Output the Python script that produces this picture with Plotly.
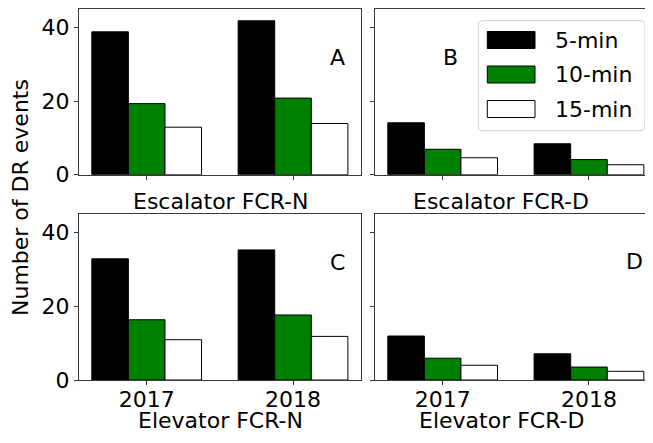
import plotly.graph_objects as go

# ---------------- data ----------------
years = ["2017", "2018"]
series_names = ["5-min", "10-min", "15-min"]
series_colors = ["#000000", "#008000", "#ffffff"]

esc_fcrn_5 = [38.8, 41.8]
esc_fcrn_10 = [19.3, 20.8]
esc_fcrn_15 = [12.9, 13.9]

esc_fcrd_5 = [14.1, 8.4]
esc_fcrd_10 = [6.9, 4.1]
esc_fcrd_15 = [4.6, 2.7]

ele_fcrn_5 = [32.8, 35.2]
ele_fcrn_10 = [16.3, 17.6]
ele_fcrn_15 = [10.9, 11.8]

ele_fcrd_5 = [11.9, 7.1]
ele_fcrd_10 = [5.9, 3.5]
ele_fcrd_15 = [4.0, 2.35]

panel_titles = ["Escalator FCR-N", "Escalator FCR-D", "Elevator FCR-N", "Elevator FCR-D"]
panel_letters = ["A", "B", "C", "D"]
y_ticks = [0, 20, 40]
y_label = "Number of DR events"

panels = [
    [esc_fcrn_5, esc_fcrn_10, esc_fcrn_15],
    [esc_fcrd_5, esc_fcrd_10, esc_fcrd_15],
    [ele_fcrn_5, ele_fcrn_10, ele_fcrn_15],
    [ele_fcrd_5, ele_fcrd_10, ele_fcrd_15],
]

# ---------------- layout geometry ----------------
# The page body has an 8px margin, so the figure is drawn 8px smaller and
# all target page-pixel positions are shifted by that offset.
OFF = 8
PAGE_W, PAGE_H = 653, 443
W, H = PAGE_W - OFF, PAGE_H - OFF
ML, MR, MT = 79 - OFF, 0, 9 - OFF
MB = H - (380 - OFF)
PW, PH = W - ML - MR, H - MT - MB
FONT = "DejaVu Sans"
FS = 22
AXC = "#3a3a3a"


def px2x(px):
    return (px - OFF - ML) / PW


def px2y(py):
    return (H - MB - (py - OFF)) / PH


x_domains = [[0, px2x(360.7)], [px2x(375), 1]]
y_domains = [[px2y(174.7), 1], [0, px2y(213.7)]]

fig = go.Figure()

for i, vals in enumerate(panels):
    ax = "" if i == 0 else str(i + 1)
    for name, color, v in zip(series_names, series_colors, vals):
        fig.add_trace(go.Bar(
            x=years, y=v, name=name,
            marker=dict(color=color, line=dict(color="black", width=1)),
            xaxis="x" + ax, yaxis="y" + ax, showlegend=False,
        ))

layout = dict(
    width=W, height=H,
    margin=dict(l=ML, r=MR, t=MT, b=MB, autoexpand=False),
    paper_bgcolor="white", plot_bgcolor="white",
    barmode="group", bargap=0.25, bargroupgap=0,
    font=dict(family=FONT, size=FS, color="black"),
    showlegend=False,
)

for i in range(4):
    r, c = divmod(i, 2)
    ax = "" if i == 0 else str(i + 1)
    right_edge = 1.4625 if c == 0 else 1.4377
    layout["xaxis" + ax] = dict(
        domain=x_domains[c], anchor="y" + ax, type="category",
        range=[-0.4625, right_edge],
        showline=True, mirror=True, linecolor=AXC, linewidth=1,
        ticks="outside", ticklen=4, tickwidth=1, tickcolor=AXC,
        showticklabels=(r == 1), ticklabelstandoff=-4,
        showgrid=False, zeroline=False,
        tickfont=dict(size=FS, color="black"),
        automargin=False,
    )
    layout["yaxis" + ax] = dict(
        domain=y_domains[r], anchor="x" + ax,
        range=[0, 45], tickvals=y_ticks,
        showline=True, mirror=(c == 0), linecolor=AXC, linewidth=1,
        ticks="outside", ticklen=4, tickwidth=1, tickcolor=AXC,
        showticklabels=(c == 0), showgrid=False, zeroline=False,
        tickfont=dict(size=FS, color="black"),
        automargin=False,
    )

fig.update_layout(**layout)

# panel x-titles (page pixel centres)
title_pos = [(220, 201.5), (501, 201.5), (220, 420.5), (501, 420.5)]
for t, (tx, ty) in zip(panel_titles, title_pos):
    fig.add_annotation(text=t, xref="paper", yref="paper", x=px2x(tx), y=px2y(ty),
                       xanchor="center", yanchor="middle", showarrow=False,
                       font=dict(size=FS, color="black"))

# panel letters
letter_pos = [(0.919, 0.71), (0.273, 0.71), (0.918, 0.707), (0.934, 0.714)]
for i, (lx, ly) in enumerate(letter_pos):
    ax = "" if i == 0 else str(i + 1)
    fig.add_annotation(text=panel_letters[i], xref="x" + ax + " domain", yref="y" + ax + " domain",
                       x=lx, y=ly, showarrow=False, xanchor="center", yanchor="middle",
                       font=dict(size=FS, color="black"))

# shared y label
fig.add_annotation(text=y_label, xref="paper", yref="paper", x=px2x(20), y=px2y(198),
                   textangle=-90, showarrow=False, xanchor="center", yanchor="middle",
                   font=dict(size=FS, color="black"))

# legend (drawn manually to get matplotlib-style wide swatches)
lx0, lx1, ly0, ly1, rad = 478.3, 645, 20.7, 130.7, 4
path = (f"M {px2x(lx0 + rad)},{px2y(ly0)} L {px2x(lx1 - rad)},{px2y(ly0)} "
        f"Q {px2x(lx1)},{px2y(ly0)} {px2x(lx1)},{px2y(ly0 + rad)} "
        f"L {px2x(lx1)},{px2y(ly1 - rad)} Q {px2x(lx1)},{px2y(ly1)} {px2x(lx1 - rad)},{px2y(ly1)} "
        f"L {px2x(lx0 + rad)},{px2y(ly1)} Q {px2x(lx0)},{px2y(ly1)} {px2x(lx0)},{px2y(ly1 - rad)} "
        f"L {px2x(lx0)},{px2y(ly0 + rad)} Q {px2x(lx0)},{px2y(ly0)} {px2x(lx0 + rad)},{px2y(ly0)} Z")
fig.add_shape(type="path", path=path, xref="paper", yref="paper",
              line=dict(color="#d0d0d0", width=1), fillcolor="rgba(255,255,255,0.8)")
row_centers = [40, 74.5, 109]
for name, color, cy in zip(series_names, series_colors, row_centers):
    fig.add_shape(type="rect", xref="paper", yref="paper",
                  x0=px2x(487.3), x1=px2x(535), y0=px2y(cy - 8.5), y1=px2y(cy + 8.5),
                  fillcolor=color, line=dict(color="black", width=1))
    fig.add_annotation(text=name, xref="paper", yref="paper", x=px2x(553), y=px2y(cy),
                       xanchor="left", yanchor="middle", showarrow=False,
                       font=dict(size=FS, color="black"))

fig.write_html("out.html")
